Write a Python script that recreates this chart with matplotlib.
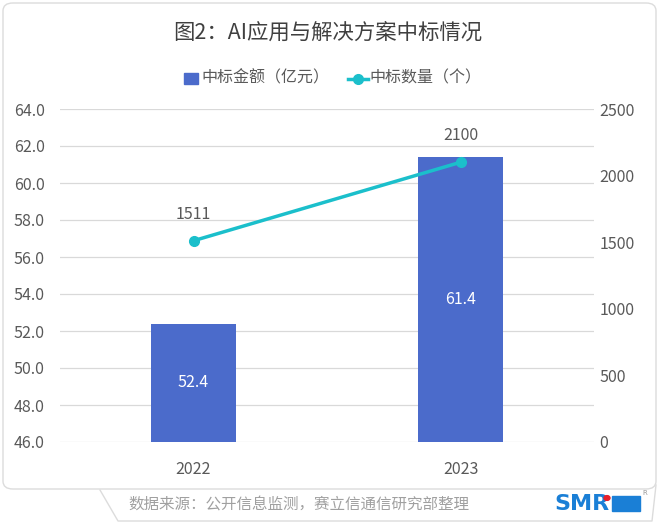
import matplotlib.pyplot as plt
from matplotlib.patches import FancyBboxPatch, Rectangle, Circle
from matplotlib.lines import Line2D
import numpy as np

plt.rcParams['font.family'] = ['Noto Sans CJK SC', 'DejaVu Sans']

years = ['2022', '2023']
amount = [52.4, 61.4]      # 中标金额（亿元）
count = [1511, 2100]       # 中标数量（个）

bar_color = '#4b6bcb'
line_color = '#1bbfcb'
text_color = '#595959'
grid_color = '#d9d9d9'

W, H = 660, 525
fig = plt.figure(figsize=(W / 100, H / 100), dpi=100)
fig.patch.set_facecolor('white')

# outer rounded frame
frame = FancyBboxPatch((3 / W, 1 - 489 / H), 653 / W, 486 / H,
                       boxstyle='round,pad=0,rounding_size=0.015',
                       transform=fig.transFigure, facecolor='white',
                       edgecolor='#dcdcdc', lw=1.0, zorder=0)
fig.patches.append(frame)
# footer tab outline
fig.lines.append(Line2D([100 / W, 118 / W, 652 / W, 656 / W],
                        [1 - 490 / H, 1 - 521 / H, 1 - 521 / H, 1 - 485 / H],
                        transform=fig.transFigure, color='#dcdcdc', lw=1.0))

ax = fig.add_axes([60 / W, 1 - 442 / H, 534 / W, 333 / H])
ax2 = ax.twinx()
ax.set_zorder(1)
ax2.set_zorder(2)
ax.patch.set_visible(False)

x = np.arange(len(years))
bars = ax.bar(x, amount, width=0.32, color=bar_color, zorder=3)
ax.set_ylim(46, 64)
ax.set_yticks(np.arange(46, 64.1, 2))
ax.set_yticklabels([f'{v:.1f}' for v in np.arange(46, 64.1, 2)])
ax.set_xlim(-0.5, 1.5)
ax.set_xticks(x)
ax.set_xticklabels(years)
ax.grid(axis='y', color=grid_color, lw=0.9, zorder=0)
for b, v in zip(bars, amount):
    ax.text(b.get_x() + b.get_width() / 2, (46 + v) / 2, f'{v:.1f}',
            ha='center', va='center', color='white', fontsize=11.5, zorder=4)

ax2.plot(x, count, color=line_color, lw=2.5, marker='o', markersize=7, zorder=5)
ax2.set_ylim(0, 2500)
ax2.set_yticks(np.arange(0, 2501, 500))
for xi, v in zip(x, count):
    ax2.annotate(str(v), (xi, v), xytext=(0, 13), textcoords='offset points',
                 ha='center', va='bottom', color=text_color, fontsize=11.5)

for a in (ax, ax2):
    for s in a.spines.values():
        s.set_visible(False)
    a.tick_params(length=0, labelsize=11.5, labelcolor=text_color)
ax.tick_params(axis='y', pad=11)
ax.tick_params(axis='x', pad=14)
ax2.tick_params(axis='y', pad=4)

fig.text(328 / W, 1 - 33 / H, '图2：AI应用与解决方案中标情况', ha='center', va='center',
         fontsize=15.4, color='#404040')

# legend
fig.patches.append(Rectangle((184 / W, 1 - 84 / H), 14 / W, 11 / H,
                             transform=fig.transFigure, color=bar_color))
fig.text(201 / W, 1 - 78 / H, '中标金额（亿元）', ha='left', va='center',
         fontsize=11.5, color=text_color)
fig.lines.append(Line2D([348 / W, 368 / W], [1 - 79 / H, 1 - 79 / H],
                        transform=fig.transFigure, color=line_color, lw=2.5))
fig.lines.append(Line2D([358 / W], [1 - 79 / H], transform=fig.transFigure,
                        color=line_color, marker='o', markersize=7, lw=0))
fig.text(369 / W, 1 - 78 / H, '中标数量（个）', ha='left', va='center',
         fontsize=11.5, color=text_color)

# footer
fig.text(128 / W, 1 - 505 / H, '数据来源：公开信息监测，赛立信通信研究部整理',
         ha='left', va='center', fontsize=11.2, color='#a0a0a0')
fig.text(554 / W, 1 - 504 / H, 'SMR', ha='left', va='center', fontsize=16,
         fontweight='heavy', color='#1a7fd6', family='DejaVu Sans')
fig.patches.append(Circle((607 / W, 1 - 498 / H), 3 / W, transform=fig.transFigure,
                          color='#e8202a', zorder=5))
fig.patches.append(Rectangle((612 / W, 1 - 511 / H), 28 / W, 15 / H,
                             transform=fig.transFigure, color='#1a7fd6'))
fig.text(645 / W, 1 - 493 / H, 'R', ha='center', va='center', fontsize=5,
         color='#999999', family='DejaVu Sans')

fig.savefig('out.png', dpi=100)
